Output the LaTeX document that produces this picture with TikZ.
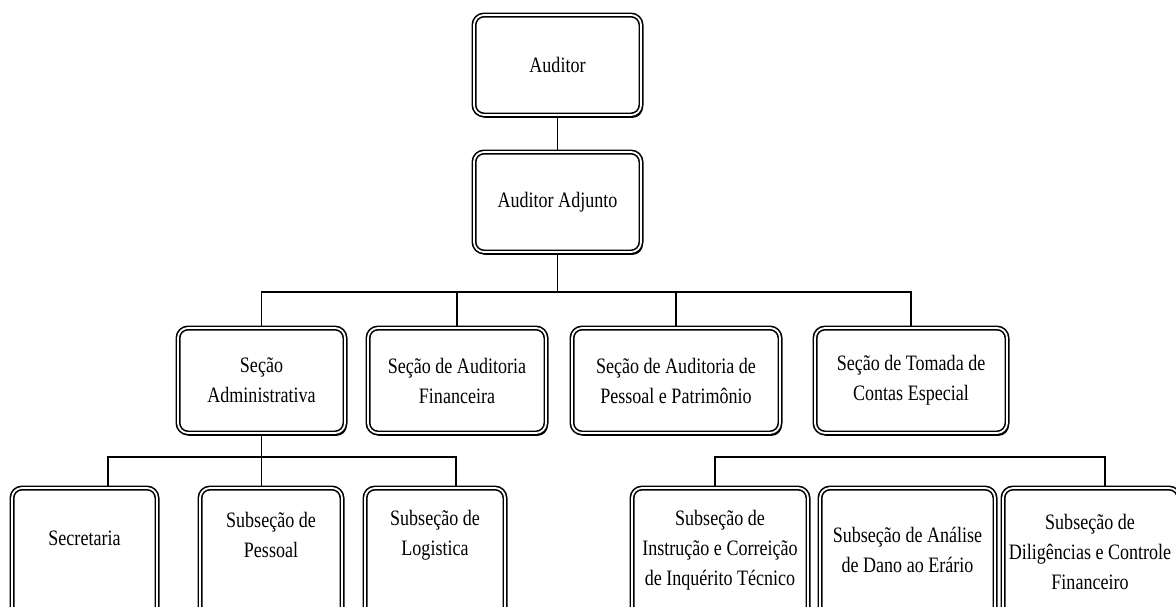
\documentclass[tikz,border=0pt]{standalone}
\usepackage{fontspec}
\setmainfont{Liberation Serif}[FakeStretch=0.82]
\usetikzlibrary{calc,shadows,backgrounds}
\tikzset{
  box/.style={draw, fill=white, rounded corners=5pt, line width=0.8pt,
    double=white, double distance=0.9pt, align=center, inner sep=2pt,
    drop shadow={shadow xshift=0.9pt, shadow yshift=-1.4pt, opacity=1, fill=black}},
  txt/.style={align=center, inner sep=0pt},
  link/.style={line width=0.6pt},
}
\begin{document}
\begin{tikzpicture}[x=0.5pt,y=-0.5pt,font=\fontsize{11}{15}\selectfont]
	\useasboundingbox (0,0) rectangle (1176,606);
	\clip (0,0) rectangle (1176,606);
	% top
	\node[box, minimum width=83.5pt, minimum height=50pt] (aud) at (557.5,65) {Auditor};
	\node[box, minimum width=83.5pt, minimum height=50pt] (adj) at (557.5,202) {Auditor Adjunto};
	% secoes
	\node[box, minimum width=83.5pt, minimum height=52.5pt] (adm) at (261.5,380.5) {Seção\\Administrativa};
	\node[box, minimum width=89pt, minimum height=52.5pt] (fin) at (457,380.5) {Seção de Auditoria\\Financeira};
	\node[box, minimum width=104pt, minimum height=52.5pt] (pes) at (676,380.5) {Seção de Auditoria de\\Pessoal e Patrimônio};
	\node[box, minimum width=96pt, minimum height=52.5pt] (tom) at (911,380.5) {Seção de Tomada de\\Contas Especial};
	% subsecoes
	\node[box, minimum width=72.5pt, minimum height=70pt] (secr) at (84.5,558) {};
	\node[box, minimum width=71pt, minimum height=70pt] (pess) at (271,558) {};
	\node[box, minimum width=70pt, minimum height=70pt] (logi) at (435,558) {};
	\node[box, minimum width=88pt, minimum height=70pt] (instr) at (720,558) {};
	\node[box, minimum width=87.5pt, minimum height=70pt] (anal) at (907.5,558) {};
	\node[box, minimum width=88pt, minimum height=70pt] (dili) at (1091,558) {};
	\node[txt] (secrT) at (84.5,538) {Secretaria};
	\node[txt] (pessT) at (271,535) {Subseção de\\Pessoal};
	\node[txt] (logiT) at (435,535) {Subseção de\\Logistica};
	\node[txt] (instrT) at (720,550) {Subseção de\\Instrução e Correição\\de Inquérito Técnico};
	\node[txt] (analT) at (907.5,550) {Subseção de Análise\\de Dano ao Erário};
	\node[txt] (diliT) at (1090,552) {Subseção de\\Diligências e Controle\\Financeiro};

	\begin{scope}[on background layer]
	\coordinate (b1) at (557.5,292);
	\coordinate (b2) at (261.5,457);
	\coordinate (b3) at (910,457);
	\draw[link] (aud) -- (adj);
	\draw[link] (adj) -- (b1);
	\draw[link] (adm.north) |- (b1) -| (tom.north);
	\draw[link] (fin.north) -- (fin.north |- b1);
	\draw[link] (pes.north) -- (pes.north |- b1);
	\draw[link] (adm) -- (b2);
	\draw[link] ($(secr.north)+(23.5,0)$) |- (b2) -| ($(logi.north)+(21,0)$);
	\draw[link] (b2) -- (b2 |- pess.north);
	\draw[link] ($(instr.north)+(-5,0)$) |- (b3) -| ($(dili.north)+(14,0)$);
	\end{scope}
\end{tikzpicture}
\end{document}
